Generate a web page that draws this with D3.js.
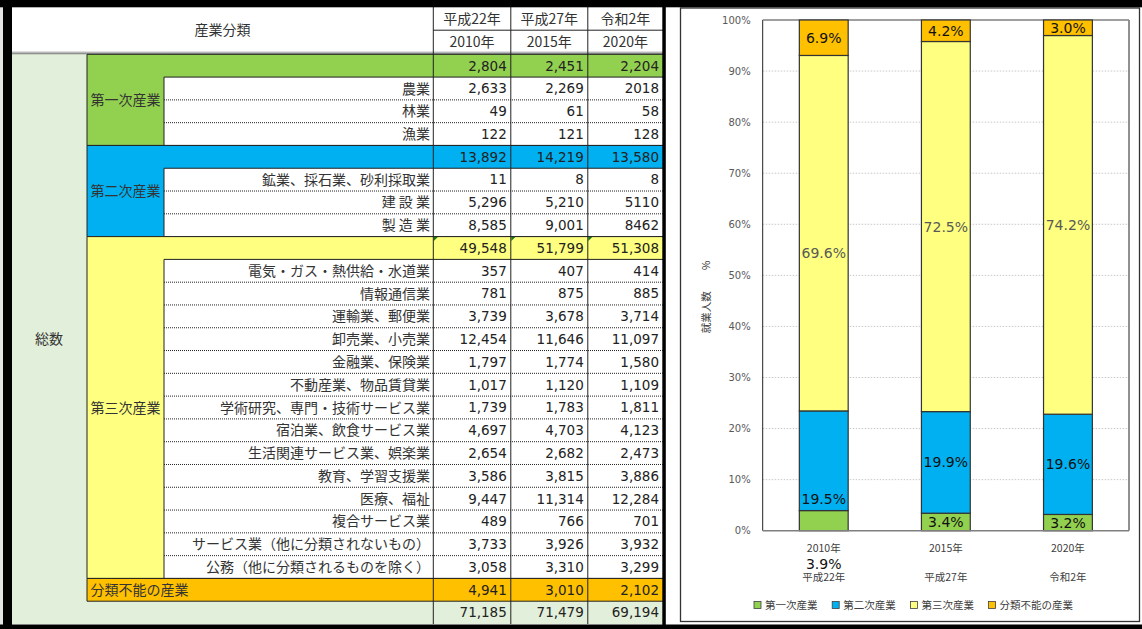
<html>
<head>
<meta charset="utf-8">
<script src="https://d3js.org/d3.v7.min.js"></script>
<style>
  body {margin:0; background:white;}
  svg text {font-family: "Noto Sans CJK JP", sans-serif;}
  svg text.num {font-family: "DejaVu Sans", sans-serif;}
</style>
</head>
<body>
<svg id="chart" width="1142" height="629"></svg>
<script>
// ---- data ----
var years = ["2010年", "2015年", "2020年"];
var eras = ["平成22年", "平成27年", "令和2年"];
var categories = ["第一次産業", "第二次産業", "第三次産業", "分類不能の産業"];
var colors = ["#92D050", "#00B0F0", "#FFFF80", "#FFC000"];

var primaryTotal = [2804, 2451, 2204];
var secondaryTotal = [13892, 14219, 13580];
var tertiaryTotal = [49548, 51799, 51308];
var unknownTotal = [4941, 3010, 2102];
var grandTotal = [71185, 71479, 69194];

var primaryNames = ["農業", "林業", "漁業"];
var primaryValues = [[2633, 2269, "2018"], [49, 61, 58], [122, 121, 128]];

var secondaryNames = ["鉱業、採石業、砂利採取業", "建 設 業", "製 造 業"];
var secondaryValues = [[11, 8, 8], [5296, 5210, "5110"], [8585, 9001, "8462"]];

var tertiaryNames = ["電気・ガス・熱供給・水道業", "情報通信業", "運輸業、郵便業", "卸売業、小売業",
  "金融業、保険業", "不動産業、物品賃貸業", "学術研究、専門・技術サービス業", "宿泊業、飲食サービス業",
  "生活関連サービス業、娯楽業", "教育、学習支援業", "医療、福祉", "複合サービス業",
  "サービス業（他に分類されないもの）", "公務（他に分類されるものを除く）"];
var tertiaryValues = [[357, 407, 414], [781, 875, 885], [3739, 3678, 3714], [12454, 11646, 11097],
  [1797, 1774, 1580], [1017, 1120, 1109], [1739, 1783, 1811], [4697, 4703, 4123],
  [2654, 2682, 2473], [3586, 3815, 3886], [9447, 11314, 12284], [489, 766, 701],
  [3733, 3926, 3932], [3058, 3310, 3299]];

var yTicks = [0, 0.1, 0.2, 0.3, 0.4, 0.5, 0.6, 0.7, 0.8, 0.9, 1];

// ---- setup ----
var svg = d3.select("#chart");
var fmt = d3.format(",");
var show = function(v) { return typeof v === "string" ? v : fmt(v); };
var ink = "#222";

svg.append("rect").attr("x", 0).attr("y", 0).attr("width", 3).attr("height", 629).attr("fill", "#e4e4e4");

// ===== table =====
var colX = [433.3, 510.8, 587.8, 663];
var row = d3.scaleLinear().domain([0, 25]).range([54.3, 624]);
var rh = row(1) - row(0);
var tbl = svg.append("g");

function hline(y, x1, x2, dotted, col) {
  tbl.append("line").attr("x1", x1).attr("x2", x2).attr("y1", y).attr("y2", y)
    .attr("stroke", col || ink).attr("stroke-width", 1)
    .attr("stroke-dasharray", dotted ? "1,1" : null);
}
function vline(x, y1, y2) {
  tbl.append("line").attr("x1", x).attr("x2", x).attr("y1", y1).attr("y2", y2)
    .attr("stroke", ink).attr("stroke-width", 1);
}
function txt(x, y, s, anchor, isNum) {
  tbl.append("text").attr("x", x).attr("y", y).attr("dy", "0.36em")
    .attr("text-anchor", anchor).attr("class", isNum ? "num" : null)
    .attr("font-size", isNum ? 13.5 : 14).attr("fill", isNum ? ink : "#333").text(s);
}
function valueRow(r, vals) {
  vals.forEach(function(v, j) { txt(colX[j + 1] - 4, row(r) + rh / 2, show(v), "end", true); });
}

// header
txt(222.5, 30.2, "産業分類", "middle");
eras.forEach(function(e, j) { txt((colX[j] + colX[j + 1]) / 2, 18.5, e, "middle"); });
years.forEach(function(e, j) { txt((colX[j] + colX[j + 1]) / 2, 41.7, e, "middle"); });
hline(30.2, colX[0], colX[3]);
hline(52.2, 12, colX[3], false, "#999");
hline(54, 12, colX[3]);

// 総数 column and grand total row
tbl.append("rect").attr("x", 12).attr("y", row(0)).attr("width", 75).attr("height", row(25) - row(0)).attr("fill", "#E2EFDA");
tbl.append("rect").attr("x", 87).attr("y", row(24)).attr("width", colX[3] - 87).attr("height", rh).attr("fill", "#E2EFDA");
txt(49, (row(0) + row(25)) / 2, "総数", "middle");
valueRow(24, grandTotal);

var blocks = [
  {total: primaryTotal, names: primaryNames, values: primaryValues},
  {total: secondaryTotal, names: secondaryNames, values: secondaryValues},
  {total: tertiaryTotal, names: tertiaryNames, values: tertiaryValues}
];
var r = 0;
blocks.forEach(function(b, i) {
  var n = b.names.length;
  tbl.append("rect").attr("x", 87).attr("y", row(r)).attr("width", colX[3] - 87).attr("height", rh).attr("fill", colors[i]);
  tbl.append("rect").attr("x", 87).attr("y", row(r)).attr("width", 77).attr("height", row(r + n + 1) - row(r)).attr("fill", colors[i]);
  txt(90.5, (row(r) + row(r + n + 1)) / 2, categories[i], "start");
  valueRow(r, b.total);
  if (i == 2) {
    // little green error markers in the yellow total cells
    colX.slice(0, 3).forEach(function(x) {
      tbl.append("path").attr("d", "M" + (x + 0.5) + "," + (row(r) + 0.5) + "h4l-4,4z").attr("fill", "#1a7a1a");
    });
  }
  b.names.forEach(function(name, k) {
    txt(430, row(r + 1 + k) + rh / 2, name, "end");
    valueRow(r + 1 + k, b.values[k]);
    if (k > 0) hline(row(r + 1 + k), 164, colX[3], true);
  });
  hline(row(r), 87, colX[3]);
  hline(row(r + 1), 164, colX[3]);
  hline(row(r + n + 1), 87, colX[3]);
  vline(87, row(r), row(r + n + 1));
  vline(164, row(r + 1), row(r + n + 1));
  r += n + 1;
});

// 分類不能の産業
tbl.append("rect").attr("x", 87).attr("y", row(23)).attr("width", colX[3] - 87).attr("height", rh).attr("fill", colors[3]);
txt(90.5, row(23) + rh / 2, categories[3], "start");
valueRow(23, unknownTotal);
hline(row(23), 87, colX[3]);
hline(row(24), 87, colX[3]);
vline(87, row(23), row(24));

colX.slice(0, 3).forEach(function(x) { vline(x, 7, 624); });

// ===== stacked chart =====
var chartRows = years.map(function(y, j) {
  return {year: y, era: eras[j], "第一次産業": primaryTotal[j], "第二次産業": secondaryTotal[j],
          "第三次産業": tertiaryTotal[j], "分類不能の産業": unknownTotal[j]};
});
var series = d3.stack().keys(categories).offset(d3.stackOffsetExpand)(chartRows);

var plotL = 762.7, plotR = 1129, plotT = 20, plotB = 530.7;
var x = d3.scaleBand().domain(years).range([plotL, plotR]).paddingInner(0.6).paddingOuter(0.3);
var y = d3.scaleLinear().domain([0, 1]).range([plotB, plotT]);
var color = d3.scaleOrdinal().domain(categories).range(colors);
var g = svg.append("g");

g.append("rect").attr("x", 680.5).attr("y", 8).attr("width", 459).attr("height", 613.5)
  .attr("fill", "white").attr("stroke", "#333").attr("stroke-width", 1.3);

g.selectAll(".grid").data(yTicks.slice(1, 10)).enter().append("line")
  .attr("x1", plotL).attr("x2", plotR).attr("y1", function(d) { return y(d); }).attr("y2", function(d) { return y(d); })
  .attr("stroke", "#c8c8c8").attr("stroke-dasharray", "1.5,1.5");

var ax = g.append("g").attr("transform", "translate(" + plotL + ",0)")
  .call(d3.axisLeft(y).tickValues(yTicks).tickFormat(d3.format(".0%")).tickSize(0).tickPadding(12));
ax.select(".domain").remove();
ax.selectAll("text").attr("class", "num").attr("font-size", 10).attr("fill", "#595959");

g.append("line").attr("x1", plotL).attr("x2", plotL).attr("y1", plotT).attr("y2", plotB).attr("stroke", "#222");
g.append("line").attr("x1", plotR).attr("x2", plotR).attr("y1", plotT).attr("y2", plotB).attr("stroke", "#222");
g.append("line").attr("x1", plotL).attr("x2", plotR).attr("y1", plotT).attr("y2", plotT).attr("stroke", "#7f7f7f").attr("stroke-width", 1.5);

g.selectAll(".layer").data(series).enter().append("g")
  .attr("fill", function(d) { return color(d.key); })
  .selectAll("rect").data(function(d) { return d; }).enter().append("rect")
  .attr("x", function(d) { return x(d.data.year); })
  .attr("width", x.bandwidth())
  .attr("y", function(d) { return y(d[1]); })
  .attr("height", function(d) { return y(d[0]) - y(d[1]); })
  .attr("stroke", "#333").attr("stroke-width", 1.2);

g.append("line").attr("x1", plotL).attr("x2", plotR).attr("y1", plotB).attr("y2", plotB).attr("stroke", "#7f7f7f").attr("stroke-width", 1.5);

// labels that Excel had moved by hand (2010 column)
var nudge = {"第一次産業|2010年": 43, "第二次産業|2010年": 38.2, "第三次産業|2010年": 19.5};
var pct = d3.format(".1%");
series.forEach(function(s) {
  s.forEach(function(d) {
    var cy = (y(d[0]) + y(d[1])) / 2 + (nudge[s.key + "|" + d.data.year] || 0);
    g.append("text").attr("class", "num").attr("x", x(d.data.year) + x.bandwidth() / 2).attr("y", cy)
      .attr("dy", "0.36em").attr("text-anchor", "middle").attr("font-size", 14)
      .attr("fill", s.key == "第三次産業" ? "#595959" : "#111").text(pct(d[1] - d[0]));
  });
});

chartRows.forEach(function(d) {
  var cx = x(d.year) + x.bandwidth() / 2;
  g.append("text").attr("x", cx).attr("y", 548.3).attr("dy", "0.36em").attr("text-anchor", "middle")
    .attr("font-size", 10.5).attr("fill", "#404040").text(d.year);
  g.append("text").attr("x", cx).attr("y", 577.5).attr("dy", "0.36em").attr("text-anchor", "middle")
    .attr("font-size", 10.5).attr("fill", "#404040").text(d.era);
});

g.append("text").attr("transform", "translate(706,297) rotate(-90)").attr("dy", "0.36em")
  .attr("text-anchor", "middle").attr("font-size", 10.5).attr("fill", "#404040").text("就業人数　　%");

var lg = g.selectAll(".leg").data(categories).enter().append("g")
  .attr("transform", function(d, i) { return "translate(" + (754 + i * 78.2) + ",605)"; });
lg.append("rect").attr("x", 0).attr("y", -3.5).attr("width", 7).attr("height", 7)
  .attr("fill", function(d) { return color(d); }).attr("stroke", "#404040").attr("stroke-width", 0.8);
lg.append("text").attr("x", 11).attr("dy", "0.36em").attr("font-size", 10.5).attr("fill", "#404040").text(function(d) { return d; });

// ===== black frame =====
var frame = [[0, 0, 1142, 7.3], [3, 0, 9, 629], [0, 624.5, 1142, 4.5], [662.3, 0, 3.5, 629]];
svg.selectAll(".frame").data(frame).enter().append("rect")
  .attr("x", function(d) { return d[0]; }).attr("y", function(d) { return d[1]; })
  .attr("width", function(d) { return d[2]; }).attr("height", function(d) { return d[3]; })
  .attr("fill", "black");
</script>
</body>
</html>
